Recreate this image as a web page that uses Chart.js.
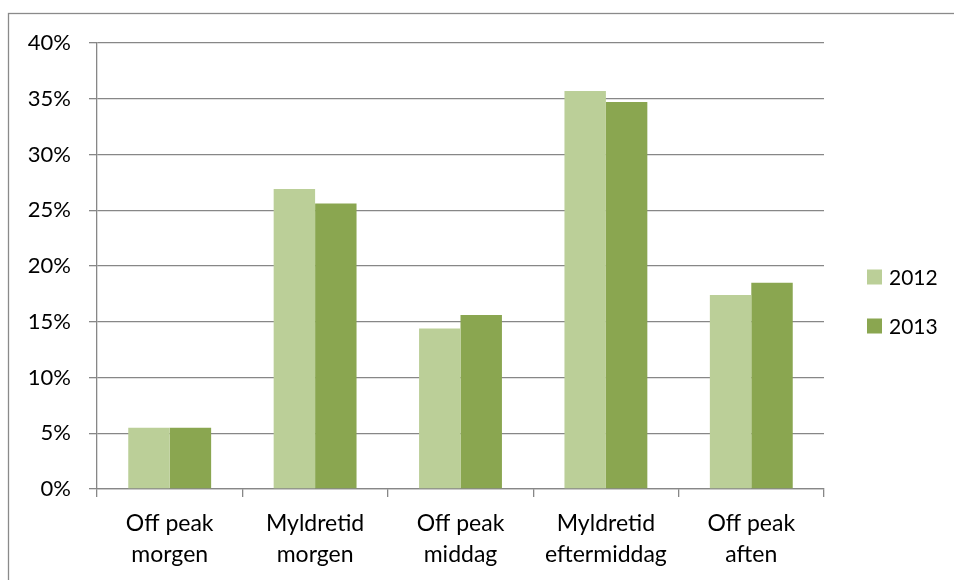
<!DOCTYPE html>
<html>
<head>
<meta charset="utf-8">
<script src="https://cdn.jsdelivr.net/npm/chart.js@4/dist/chart.umd.min.js"></script>
<style>
  html, body { margin: 0; padding: 0; background: #ffffff; }
  #wrap { width: 954px; height: 580px; position: relative; }
</style>
</head>
<body>
<div id="wrap"><canvas id="c" width="954" height="580"></canvas></div>
<script>
// Share of trips per time period, 2012 vs 2013 (percent)
const categories = [
  ['Off peak', 'morgen'],
  ['Myldretid', 'morgen'],
  ['Off peak', 'middag'],
  ['Myldretid', 'eftermiddag'],
  ['Off peak', 'aften']
];
const seriesNames = ['2012', '2013'];
const values2012 = [5.5, 26.9, 14.4, 35.7, 17.4];
const values2013 = [5.5, 25.6, 15.6, 34.7, 18.5];
const yTicks = [0, 5, 10, 15, 20, 25, 30, 35, 40];

const colors = ['#BBCF98', '#8AA650'];
const axisGray = '#878787';
const FONT = 'Lato, "Open Sans", sans-serif';

// Outer frame of the chart object
const framePlugin = {
  id: 'frame',
  beforeDraw(chart) {
    const ctx = chart.ctx;
    ctx.save();
    ctx.fillStyle = '#ffffff';
    ctx.fillRect(0, 0, chart.width, chart.height);
    ctx.strokeStyle = '#8a8a8a';
    ctx.lineWidth = 1.3;
    ctx.strokeRect(8.5, 13.5, chart.width + 20, chart.height + 20);
    ctx.restore();
  }
};

// Legend drawn to the right of the plot area
const sideLegend = {
  id: 'sideLegend',
  afterDraw(chart) {
    const ctx = chart.ctx;
    const area = chart.chartArea;
    const x = area.right + 43;
    const y0 = 277;
    const gap = 49;
    ctx.save();
    ctx.font = '21px ' + FONT;
    ctx.textBaseline = 'middle';
    ctx.textAlign = 'left';
    chart.data.datasets.forEach((ds, i) => {
      const cy = y0 + i * gap;
      ctx.fillStyle = ds.backgroundColor;
      ctx.fillRect(x, cy - 7.5, 15, 15);
      ctx.fillStyle = '#000000';
      ctx.fillText(ds.label, x + 22, cy + 1);
    });
    ctx.restore();
  }
};

new Chart(document.getElementById('c'), {
  type: 'bar',
  data: {
    labels: categories,
    datasets: [
      { label: seriesNames[0], data: values2012, backgroundColor: colors[0] },
      { label: seriesNames[1], data: values2013, backgroundColor: colors[1] }
    ]
  },
  options: {
    responsive: false,
    animation: false,
    devicePixelRatio: 1,
    layout: { padding: { top: 43, right: 130, left: 0, bottom: 0 } },
    datasets: {
      bar: { categoryPercentage: 0.57, barPercentage: 1.0, borderWidth: 0 }
    },
    plugins: {
      legend: { display: false },
      tooltip: { enabled: false }
    },
    scales: {
      x: {
        grid: {
          offset: true,
          drawOnChartArea: false,
          drawTicks: true,
          tickLength: 8,
          color: axisGray,
          lineWidth: 1.3
        },
        border: { color: axisGray, width: 1.3 },
        ticks: {
          color: '#000000',
          font: { family: FONT, size: 23, lineHeight: 1.35 },
          padding: 11,
          maxRotation: 0,
          autoSkip: false
        },
        afterFit(scale) { scale.height = 91; }
      },
      y: {
        min: 0,
        max: 40,
        afterBuildTicks(scale) { scale.ticks = yTicks.map(v => ({ value: v })); },
        grid: {
          color: axisGray,
          lineWidth: 1.3,
          drawTicks: true,
          tickLength: 8
        },
        border: { color: axisGray, width: 1.3 },
        ticks: {
          color: '#000000',
          font: { family: FONT, size: 22 },
          padding: 18,
          callback: v => v + '%'
        },
        afterFit(scale) { scale.width = 97; }
      }
    }
  },
  plugins: [framePlugin, sideLegend]
});
</script>
</body>
</html>
